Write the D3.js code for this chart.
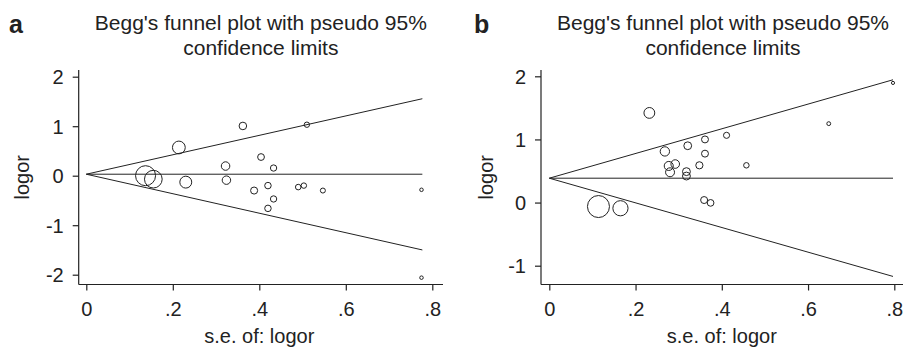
<!DOCTYPE html>
<html>
<head>
<meta charset="utf-8">
<script src="https://cdn.jsdelivr.net/npm/d3@7"></script>
<style>
  body { margin: 0; background: #fff; }
  svg text { font-family: "Liberation Sans", Arial, sans-serif; fill: #222; }
</style>
</head>
<body>
<svg id="chart" width="903" height="348"></svg>
<script>
// panel a: standard error and log odds ratio of each study
var seA    = [0.137, 0.155, 0.214, 0.230, 0.322, 0.324, 0.362, 0.404, 0.433, 0.388,
              0.420, 0.433, 0.420, 0.490, 0.503, 0.547, 0.510, 0.775, 0.775];
var logorA = [0.00, -0.07, 0.57, -0.13, 0.195, -0.09, 1.005, 0.377, 0.155, -0.30,
              -0.20, -0.47, -0.66, -0.23, -0.20, -0.30, 1.03, -0.285, -2.06];
// pooled estimate and pseudo 95% limit ends (at se = 0 and max se)
var limSeA    = [0, 0.777];
var centerA   = [0.03, 0.03];
var upperA    = [0.03, 1.555];
var lowerA    = [0.03, -1.50];

// panel b
var seB    = [0.114, 0.165, 0.232, 0.268, 0.277, 0.292, 0.280, 0.321, 0.318, 0.318,
              0.348, 0.361, 0.361, 0.359, 0.374, 0.411, 0.457, 0.648, 0.797];
var logorB = [-0.063, -0.09, 1.42, 0.81, 0.58, 0.61, 0.48, 0.90, 0.49, 0.42,
              0.59, 1.00, 0.775, 0.04, -0.005, 1.065, 0.59, 1.25, 1.895];
var limSeB    = [0, 0.797];
var centerB   = [0.386, 0.386];
var upperB    = [0.386, 1.945];
var lowerB    = [0.386, -1.17];

var xTicks  = [0, 0.2, 0.4, 0.6, 0.8];
var yTicksA = [-2, -1, 0, 1, 2];
var yTicksB = [-1, 0, 1, 2];

var titleLines = ["Begg's funnel plot with pseudo 95%", "confidence limits"];
var xTitle = "s.e. of: logor";
var yTitle = "logor";

var svg = d3.select("#chart");

function fmtX(d) {
  return d === 0 ? "0" : d3.format(".1f")(d).replace(/^0/, "");
}
function fmtY(d) {
  return String(d); // plain hyphen minus like the original
}

function drawPanel(p) {
  var g = svg.append("g");

  var x = d3.scaleLinear().domain([0, 0.8]).range([p.x0, p.x8]);
  var y = d3.scaleLinear().domain([p.yTicks[0], p.yTicks[p.yTicks.length - 1]])
    .range([p.yLo, p.yHi]);

  var left = p.axisLeft, bottom = 284.5, top = 70;

  // axes
  var xAxis = d3.axisBottom(x).tickValues(xTicks).tickFormat(fmtX)
    .tickSize(6).tickSizeOuter(0).tickPadding(11);
  var xg = g.append("g").attr("transform", "translate(0," + bottom + ")").call(xAxis);
  xg.select(".domain").remove();
  xg.append("line").attr("x1", left).attr("x2", p.axisRight)
    .attr("stroke", "#222").attr("stroke-width", 1.2);

  var yAxis = d3.axisLeft(y).tickValues(p.yTicks).tickFormat(fmtY)
    .tickSize(6).tickSizeOuter(0).tickPadding(9);
  var yg = g.append("g").attr("transform", "translate(" + left + ",0)").call(yAxis);
  yg.select(".domain").remove();
  yg.append("line").attr("y1", top).attr("y2", bottom)
    .attr("stroke", "#222").attr("stroke-width", 1.2);

  g.selectAll(".tick line").attr("stroke", "#222").attr("stroke-width", 1.2);
  g.selectAll(".tick text").style("font-size", "20px").attr("fill", "#222");
  yg.selectAll(".tick text").attr("dy", "0.36em");

  // limit lines
  var line = d3.line().x(function(d) { return x(d[0]); }).y(function(d) { return y(d[1]); });
  [p.center, p.upper, p.lower].forEach(function(vals) {
    g.append("path")
      .datum(d3.zip(p.limSe, vals))
      .attr("d", line)
      .attr("fill", "none")
      .attr("stroke", "#222")
      .attr("stroke-width", 1);
  });

  // points, radius proportional to 1/se
  var pts = d3.zip(p.se, p.logor);
  var minSe = d3.min(p.se);
  g.selectAll("circle.pt").data(pts).enter().append("circle")
    .attr("class", "pt")
    .attr("cx", function(d) { return x(d[0]); })
    .attr("cy", function(d) { return y(d[1]); })
    .attr("r", function(d) { return p.rMax * minSe / d[0]; })
    .attr("fill", "none")
    .attr("stroke", "#222")
    .attr("stroke-width", 1);

  // titles
  var cx = (left + p.axisRight) / 2;
  g.append("text").attr("x", cx).attr("y", 30).attr("text-anchor", "middle")
    .style("font-size", "21px").text(titleLines[0]);
  g.append("text").attr("x", cx).attr("y", 55).attr("text-anchor", "middle")
    .style("font-size", "21px").text(titleLines[1]);

  g.append("text").attr("x", (x(0) + x(0.8)) / 2).attr("y", 343)
    .attr("text-anchor", "middle").style("font-size", "20px").text(xTitle);

  g.append("text")
    .attr("transform", "translate(" + p.yTitleX + "," + ((top + bottom) / 2) + ") rotate(-90)")
    .attr("text-anchor", "middle").style("font-size", "20px").text(yTitle);

  g.append("text").attr("x", p.letterX).attr("y", 33)
    .style("font-size", "25px").style("font-weight", "bold").text(p.letter);
}

drawPanel({
  letter: "a", letterX: 9, yTitleX: 29,
  se: seA, logor: logorA, limSe: limSeA, center: centerA, upper: upperA, lower: lowerA,
  yTicks: yTicksA, yLo: 274.7, yHi: 76.7,
  x0: 86.3, x8: 432.3, axisLeft: 78.7, axisRight: 443, rMax: 10
});

drawPanel({
  letter: "b", letterX: 474, yTitleX: 493,
  se: seB, logor: logorB, limSe: limSeB, center: centerB, upper: upperB, lower: lowerB,
  yTicks: yTicksB, yLo: 265.7, yHi: 76.3,
  x0: 549.3, x8: 894.3, axisLeft: 541, axisRight: 905, rMax: 11
});
</script>
</body>
</html>
